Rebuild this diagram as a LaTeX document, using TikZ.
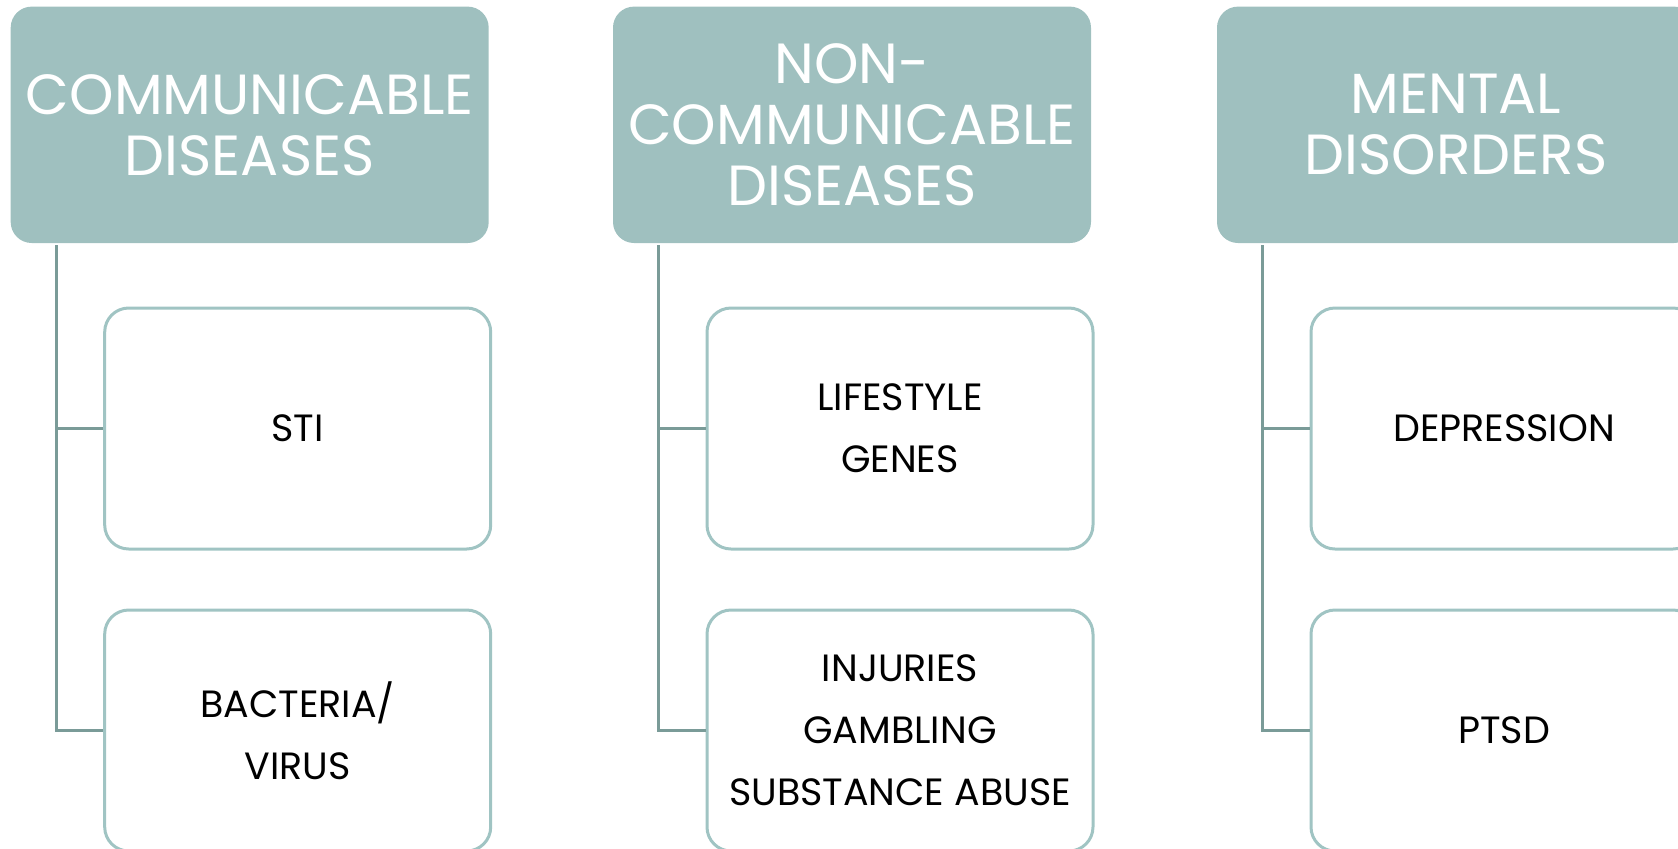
\documentclass[tikz,border=0pt]{standalone}
\usepackage{fontspec}
\setmainfont{Poppins}
\definecolor{hdr}{RGB}{159,192,191}
\definecolor{bord}{RGB}{160,196,195}
\definecolor{connc}{RGB}{122,155,152}
\begin{document}
\begin{tikzpicture}[x=0.5pt,y=-0.5pt,
 hdrbox/.style={fill=hdr, rounded corners=10.5pt, minimum width=239pt, minimum height=118.2pt, inner sep=0pt, align=center, text=white, font=\fontsize{28.3}{30.5}\selectfont},
 childbox/.style={draw=bord, line width=1.5pt, fill=white, rounded corners=12pt, minimum width=193pt, minimum height=120.5pt, inner sep=0pt, align=center, font=\fontsize{19}{31}\selectfont},
 connline/.style={draw=connc, line width=1.5pt}]
\useasboundingbox (0,0) rectangle (1678,848);
\clip (0,0) rectangle (1678,848);
% column 1
\node[hdrbox] (h1) at (249.7,124.8) {COMMUNICABLE\\DISEASES};
\node[childbox] (c11) at (297.7,428.5) {STI};
\node[childbox] (c12) at (297.7,730.5) {BACTERIA/\\VIRUS};
% column 2
\node[hdrbox] (h2) at (852,124.8) {NON-\\COMMUNICABLE\\DISEASES};
\node[childbox] (c21) at (900,428.5) {LIFESTYLE\\GENES};
\node[childbox] (c22) at (900,730.5) {INJURIES\\GAMBLING\\SUBSTANCE ABUSE};
% column 3
\node[hdrbox] (h3) at (1456,124.8) {MENTAL\\DISORDERS};
\node[childbox] (c31) at (1504,428.5) {DEPRESSION};
\node[childbox] (c32) at (1504,730.5) {PTSD};
% connectors
\foreach \h/\a/\b in {h1/c11/c12, h2/c21/c22, h3/c31/c32}{
  \coordinate (v\h) at ([xshift=23pt,yshift=-1pt]\h.south west);
  \draw[connline] (v\h) |- (\a.west);
  \draw[connline] (v\h) |- (\b.west);
}
\end{tikzpicture}
\end{document}
